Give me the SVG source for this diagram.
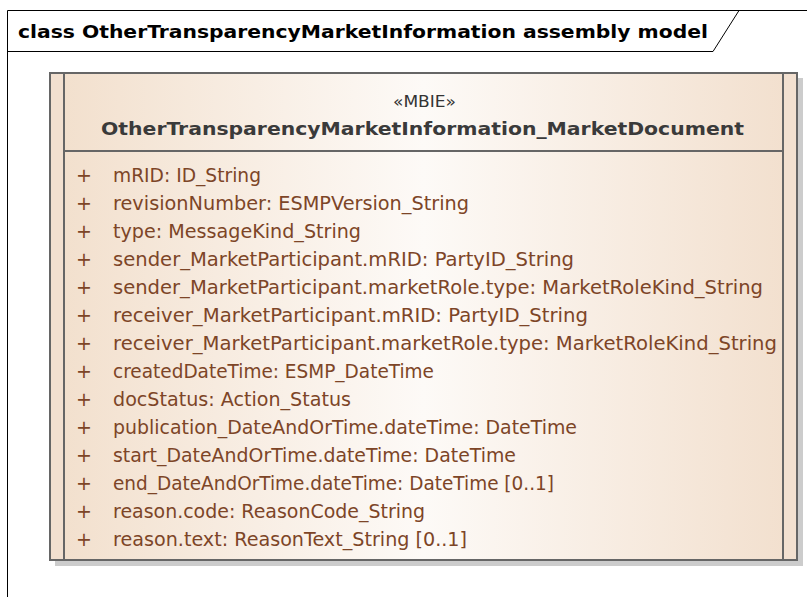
<svg xmlns="http://www.w3.org/2000/svg" width="807" height="597" viewBox="0 0 807 597">
  <defs>
    <linearGradient id="fillGrad" x1="0" y1="0" x2="1" y2="0">
      <stop offset="0" stop-color="#f2dfcc"/>
      <stop offset="0.5" stop-color="#fdfaf7"/>
      <stop offset="1" stop-color="#f2dfcd"/>
    </linearGradient>
    <style>
      .frame { fill: none; stroke: #000; stroke-width: 1; }
      .title { font-family: "DejaVu Sans", "Liberation Sans", sans-serif; font-weight: bold; font-size: 18px; fill: #000; }
      .border { fill: none; stroke: #666; stroke-width: 2; }
      .strip { fill: #f2e0d0; }
      .stereo { font-family: "DejaVu Sans", "Liberation Sans", sans-serif; font-size: 16px; fill: #333; }
      .name { font-family: "DejaVu Sans", "Liberation Sans", sans-serif; font-weight: bold; font-size: 18px; fill: #3a3a3a; }
      .attr { font-family: "DejaVu Sans", "Liberation Sans", sans-serif; font-size: 19px; fill: #7d4527; }
    </style>
  </defs>
  <rect x="0" y="0" width="807" height="597" fill="#fff"/>
  <g id="frame">
    <path class="frame" d="M7.5,597 V10.5 H807"/>
    <path class="frame" d="M7.5,51.5 H713 L739,10.5"/>
    <text class="title" x="18" y="38" textLength="690" lengthAdjust="spacingAndGlyphs">class OtherTransparencyMarketInformation assembly model</text>
  </g>
  <g id="connectors"/>
  <g id="node-OtherTransparencyMarketInformation_MarketDocument">
    <rect x="55" y="78" width="748" height="488" fill="#cccccc"/>
    <rect x="50" y="73" width="747" height="487" fill="url(#fillGrad)"/>
    <rect class="strip" x="50" y="73" width="14" height="487"/>
    <rect class="strip" x="783" y="73" width="14" height="487"/>
    <line x1="64" y1="73" x2="64" y2="560" stroke="#666" stroke-width="2"/>
    <line x1="783" y1="73" x2="783" y2="560" stroke="#666" stroke-width="2"/>
    <line x1="64" y1="151" x2="783" y2="151" stroke="#666" stroke-width="2"/>
    <rect class="border" x="50" y="73" width="747" height="487"/>
    <text class="stereo" x="393" y="107" textLength="63" lengthAdjust="spacingAndGlyphs">«MBIE»</text>
    <text class="name" x="101" y="135" textLength="643" lengthAdjust="spacingAndGlyphs">OtherTransparencyMarketInformation_MarketDocument</text>
    <g class="attr">
      <text x="76" y="182">+</text><text x="113" y="182" textLength="148" lengthAdjust="spacingAndGlyphs">mRID: ID_String</text>
      <text x="76" y="210">+</text><text x="113" y="210" textLength="356" lengthAdjust="spacingAndGlyphs">revisionNumber: ESMPVersion_String</text>
      <text x="76" y="238">+</text><text x="113" y="238" textLength="248" lengthAdjust="spacingAndGlyphs">type: MessageKind_String</text>
      <text x="76" y="266">+</text><text x="113" y="266" textLength="461" lengthAdjust="spacingAndGlyphs">sender_MarketParticipant.mRID: PartyID_String</text>
      <text x="76" y="294">+</text><text x="113" y="294" textLength="650" lengthAdjust="spacingAndGlyphs">sender_MarketParticipant.marketRole.type: MarketRoleKind_String</text>
      <text x="76" y="322">+</text><text x="113" y="322" textLength="475" lengthAdjust="spacingAndGlyphs">receiver_MarketParticipant.mRID: PartyID_String</text>
      <text x="76" y="350">+</text><text x="113" y="350" textLength="664" lengthAdjust="spacingAndGlyphs">receiver_MarketParticipant.marketRole.type: MarketRoleKind_String</text>
      <text x="76" y="378">+</text><text x="113" y="378" textLength="321" lengthAdjust="spacingAndGlyphs">createdDateTime: ESMP_DateTime</text>
      <text x="76" y="406">+</text><text x="113" y="406" textLength="238" lengthAdjust="spacingAndGlyphs">docStatus: Action_Status</text>
      <text x="76" y="434">+</text><text x="113" y="434" textLength="464" lengthAdjust="spacingAndGlyphs">publication_DateAndOrTime.dateTime: DateTime</text>
      <text x="76" y="462">+</text><text x="113" y="462" textLength="403" lengthAdjust="spacingAndGlyphs">start_DateAndOrTime.dateTime: DateTime</text>
      <text x="76" y="490">+</text><text x="113" y="490" textLength="441" lengthAdjust="spacingAndGlyphs">end_DateAndOrTime.dateTime: DateTime [0..1]</text>
      <text x="76" y="518">+</text><text x="113" y="518" textLength="312" lengthAdjust="spacingAndGlyphs">reason.code: ReasonCode_String</text>
      <text x="76" y="546">+</text><text x="113" y="546" textLength="354" lengthAdjust="spacingAndGlyphs">reason.text: ReasonText_String [0..1]</text>
    </g>
  </g>
</svg>
